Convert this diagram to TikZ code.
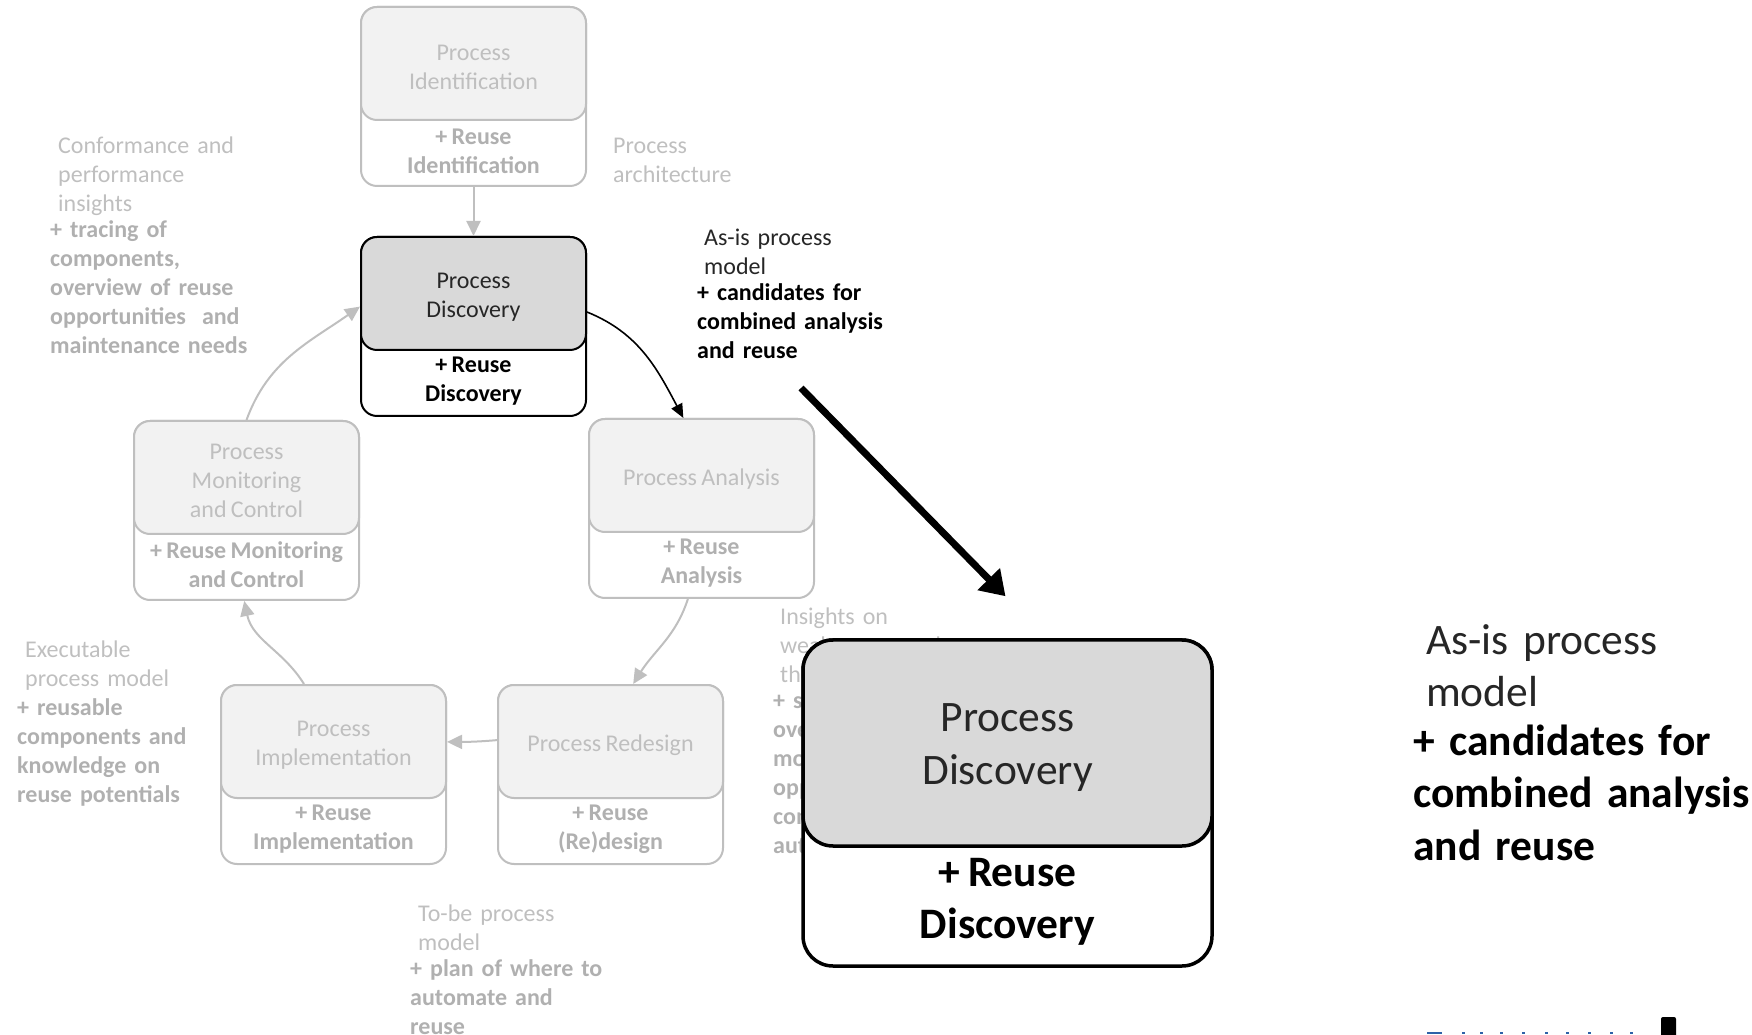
\documentclass[tikz,border=0pt]{standalone}
\usepackage{fontspec}
\setmainfont{Carlito}[WordSpace=0.8]
\usetikzlibrary{arrows.meta,calc}

\definecolor{boxline}{HTML}{BFBFBF}
\definecolor{boxfill}{HTML}{F2F2F2}
\definecolor{fadetext}{HTML}{BFBFBF}
\definecolor{fadebold}{HTML}{B0B0B0}
\definecolor{activefill}{HTML}{D9D9D9}
\definecolor{inktext}{HTML}{262626}
\definecolor{linkblue}{HTML}{2E62A8}

\tikzset{
  stagebase/.style={rectangle, rounded corners=16pt, minimum width=225pt,
    minimum height=179pt, line width=2pt, fill=white, inner sep=0pt},
  fadestage/.style={stagebase, draw=boxline},
  activestage/.style={stagebase, draw=black},
  topbase/.style={rectangle, rounded corners=16pt, minimum width=225pt,
    minimum height=113pt, line width=2pt, inner sep=0pt},
  fadetop/.style={topbase, draw=boxline, fill=boxfill},
  activetop/.style={topbase, draw=black, fill=activefill},
  toplabel/.style={inner sep=0pt, align=center, font=\fontsize{24}{29}\selectfont},
  fadelabel/.style={toplabel, text=fadetext},
  activelabel/.style={toplabel, text=inktext},
  lowbase/.style={inner sep=0pt, align=center, font=\bfseries\fontsize{24}{29}\selectfont},
  fadelow/.style={lowbase, text=fadebold},
  activelow/.style={lowbase, text=black},
  note/.style={anchor=north west, inner sep=0pt, align=left, text width=320pt,
    font=\fontsize{24}{29}\selectfont},
  fadenote/.style={note, text=fadetext},
  inknote/.style={note, text=inktext},
  fadearrow/.style={draw=boxline, line width=2pt,
    -{Triangle[length=15pt,width=14pt]}, boxline},
  activearrow/.style={draw=black, line width=1.6pt,
    -{Triangle[length=14pt,width=12pt]}},
  zoomarrow/.style={draw=black, line width=7pt,
    -{Triangle[length=24pt,width=30pt]}},
}

% one lifecycle phase: name, centre, look (fade/active), upper text, lower text
\newcommand{\phasebox}[5]{%
  \node[#3stage] (#1) at (#2) {};
  \node[#3top, anchor=north] (#1-top) at (#1.north) {};
  \node[#3label] (#1-label) at ($(#1-top.center)+(0,-3.5)$) {#4};
  \node[#3low] (#1-low) at ($(#1.south)+(0,36)$) {#5};
}

\begin{document}
\begin{tikzpicture}[x=1pt,y=1pt]
\useasboundingbox (0,0) rectangle (1752,1034);

% lifecycle phases
\phasebox{idf}{473.5,937.5}{fade}{Process\\Identification}{+ Reuse\\Identification}
\phasebox{disc}{473.5,707.5}{active}{Process\\Discovery}{+ Reuse\\Discovery}
\phasebox{ana}{701.5,525.5}{fade}{Process Analysis}{+ Reuse\\Analysis}
\phasebox{mon}{246.5,523.5}{fade}{Process\\Monitoring\\and Control}{+ Reuse Monitoring\\and Control}
\phasebox{imp}{333.5,259.5}{fade}{Process\\Implementation}{+ Reuse\\Implementation}
\phasebox{red}{610.5,259.5}{fade}{Process Redesign}{+ Reuse\\(Re)design}

% cycle connectors
\draw[fadearrow] (idf.south) -- (disc.north);
\draw[activearrow] ($(disc.north east)!0.42!(disc.south east)$)
  to[out=-22,in=118] ($(ana.north west)!0.42!(ana.north east)$);
\draw[fadearrow] ($(ana.south west)!0.44!(ana.south east)$)
  to[out=-108,in=58] ($(red.north west)!0.6!(red.north east)$);
\draw[fadearrow] ($(red.north west)!0.31!(red.south west)$)
  to[out=185,in=0] ($(imp.north east)!0.32!(imp.south east)$);
\draw[fadearrow] ($(imp.north west)!0.37!(imp.north east)$)
  to[out=122,in=-78] ($(mon.south west)!0.49!(mon.south east)$);
\draw[fadearrow] ($(mon.north west)!0.5!(mon.north east)$)
  to[out=70,in=215] ($(disc.north west)!0.39!(disc.south west)$);

% phase outputs
\node[fadenote] (n-conf) at (50,897.5) {\hspace*{8pt}Conformance and\\
  \hspace*{8pt}performance\\ \hspace*{8pt}insights\\[-2.5pt]
  {\bfseries\color{fadebold}+ tracing of\\ components,\\ overview of reuse\\
  opportunities~ and\\ maintenance needs}};
\node[fadenote] (n-arch) at (613,896) {Process\\ architecture};
\node[fadenote] (n-exec) at (17,393) {\hspace*{8pt}Executable\\
  \hspace*{8pt}process model\\
  {\bfseries\color{fadebold}+ reusable\\ components and\\ knowledge on\\
  reuse potentials}};
\node[fadenote] (n-tobe) at (410,129.5) {\hspace*{8pt}To-be process\\
  \hspace*{8pt}model\\[-3pt]
  {\bfseries\color{fadebold}+ plan of where to\\ automate and\\ reuse}};
\node[fadenote] (n-weak) at (773,426.5) {\hspace*{7pt}Insights on\\
  \hspace*{7pt}weaknesses and\\ \hspace*{7pt}their impact\\[-2.5pt]
  {\bfseries\color{fadebold}+ shared\\ overview of\\ models and\\
  opportunities\\ combined\\ automation}};
\node[inknote] (n-asis) at (697,805.5) {\hspace*{7pt}As-is process\\
  \hspace*{7pt}model\\[-2.5pt]
  {\bfseries\color{black}+ candidates for\\ combined analysis\\ and reuse}};

% enlarged discovery phase
\coordinate (zoomfrom) at (801,646);
\node[activestage, minimum width=409pt, minimum height=326pt,
  rounded corners=30pt, line width=3.5pt] (big) at (1007.5,231) {};
\node[activetop, anchor=north, minimum width=409pt, minimum height=206pt,
  rounded corners=30pt, line width=3.5pt] (big-top) at (big.north) {};
\node[activelabel, font=\fontsize{43.5}{52.5}\selectfont] (big-label)
  at ($(big-top.center)+(0,-4.5)$) {Process\\Discovery};
\node[activelow, font=\bfseries\fontsize{43.5}{52.5}\selectfont] (big-low)
  at ($(big.south)+(0,66)$) {+ Reuse\\Discovery};
\draw[zoomarrow] (zoomfrom) -- ($(big.north)+(-2,42)$);

\node[inknote, text width=420pt, font=\fontsize{43.5}{52.5}\selectfont]
  (n-asis-big) at (1413,410) {\hspace*{13pt}As-is process\\
  \hspace*{13pt}model\\[-4pt]
  {\bfseries\color{black}+ candidates for\\ combined analysis\\ and reuse}};

% page edge remnants
\fill[linkblue] (1427,0) rectangle (1442,2.5);
\foreach \bx in {1462,1480,1500,1522,1545,1566,1588,1610,1630}
  \fill[linkblue] (\bx,0) rectangle (\bx+3,2);
\fill[black, rounded corners=2pt] (1661,-4) rectangle (1676,17);
\end{tikzpicture}
\end{document}
